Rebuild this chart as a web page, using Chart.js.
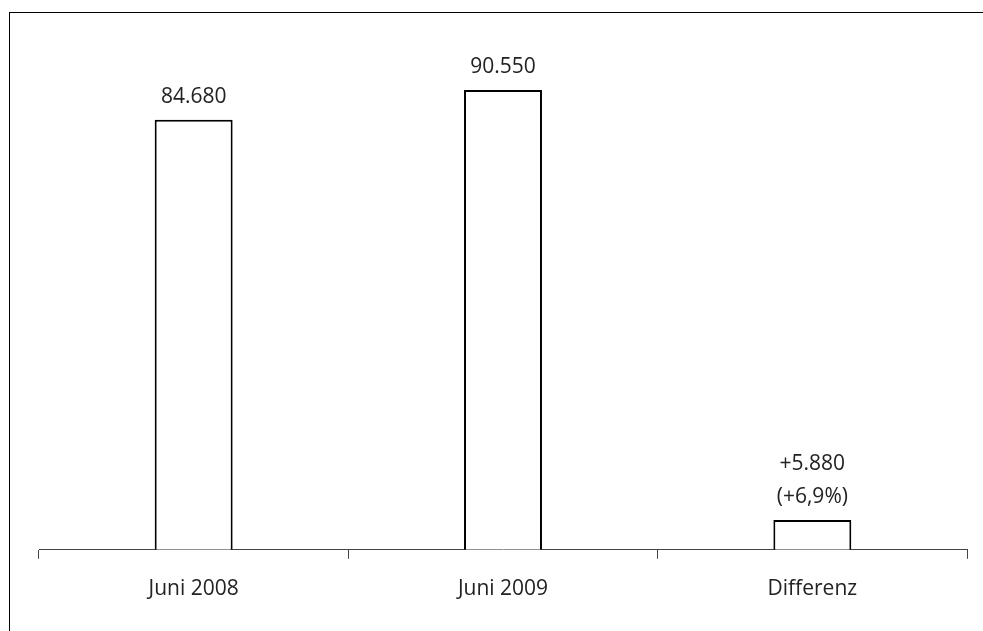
<!DOCTYPE html>
<html>
<head>
<meta charset="utf-8">
<script src="https://cdn.jsdelivr.net/npm/chart.js@4/dist/chart.umd.min.js"></script>
<style>
    body { margin: 0; background: #fff; }
    #wrap { position: relative; width: 983px; height: 631px; overflow: hidden; }
    #frame { position: absolute; left: 9px; top: 12px; width: 1000px; height: 700px;
             border-left: 1.5px solid #000; border-top: 1.5px solid #000; }
    canvas { position: absolute; left: 0; top: 0; }
</style>
</head>
<body>
<div id="wrap">
    <div id="frame"></div>
    <canvas id="chart" width="983" height="631"></canvas>
</div>
<script>
const categories = ['Juni 2008', 'Juni 2009', 'Differenz'];
const values = [84680, 90550, 5880];
const valueLabels = [['84.680'], ['90.550'], ['+5.880', '(+6,9%)']];

const fontFamily = '"Open Sans", sans-serif';

// draws the text above each bar
const barLabels = {
    id: 'barLabels',
    afterDatasetsDraw(chart) {
        const ctx = chart.ctx;
        const meta = chart.getDatasetMeta(0);
        ctx.save();
        ctx.font = '21px ' + fontFamily;
        ctx.fillStyle = '#222';
        ctx.textAlign = 'center';
        ctx.textBaseline = 'middle';
        meta.data.forEach((bar, i) => {
            const lines = valueLabels[i];
            lines.forEach((line, j) => {
                const offset = (lines.length - 1 - j) * 33;
                ctx.fillText(line, bar.x, bar.y - 23 - offset);
            });
        });
        ctx.restore();
    }
};

new Chart(document.getElementById('chart').getContext('2d'), {
    type: 'bar',
    data: {
        labels: categories,
        datasets: [{
            data: values,
            backgroundColor: '#fff',
            borderColor: '#000',
            borderWidth: 2,
            categoryPercentage: 1,
            barPercentage: 0.252
        }]
    },
    options: {
        responsive: false,
        animation: false,
        layout: {
            padding: { left: 39, right: 16, top: 42, bottom: 11 }
        },
        plugins: {
            legend: { display: false },
            tooltip: { enabled: false }
        },
        scales: {
            x: {
                grid: {
                    offset: true,
                    drawOnChartArea: false,
                    drawTicks: true,
                    tickLength: 9,
                    color: '#444',
                    lineWidth: 1
                },
                border: { display: true, color: '#444', width: 1 },
                ticks: {
                    color: '#222',
                    font: { family: fontFamily, size: 21 },
                    padding: 18
                }
            },
            y: {
                display: false,
                min: 0,
                max: 100000
            }
        }
    },
    plugins: [barLabels]
});
</script>
</body>
</html>
